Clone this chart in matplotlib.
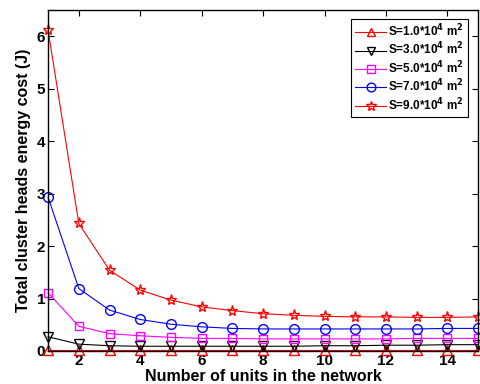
import matplotlib
matplotlib.use("Agg")
import matplotlib.pyplot as plt

plt.rcParams['font.family'] = ['Liberation Sans', 'DejaVu Sans']
plt.rcParams['font.weight'] = 'bold'
plt.rcParams['mathtext.default'] = 'bf'

units = list(range(1, 16))
s1 = [0.02, 0.02, 0.02, 0.02, 0.02, 0.02, 0.02, 0.02, 0.02, 0.02, 0.02, 0.02, 0.02, 0.02, 0.02]
s3 = [0.27, 0.13, 0.10, 0.09, 0.09, 0.09, 0.09, 0.09, 0.09, 0.10, 0.10, 0.11, 0.11, 0.12, 0.12]
s5 = [1.11, 0.47, 0.33, 0.29, 0.26, 0.24, 0.24, 0.23, 0.23, 0.23, 0.23, 0.23, 0.24, 0.24, 0.24]
s7 = [2.93, 1.19, 0.78, 0.60, 0.51, 0.46, 0.43, 0.42, 0.42, 0.42, 0.42, 0.42, 0.42, 0.43, 0.43]
s9 = [6.11, 2.43, 1.54, 1.16, 0.97, 0.84, 0.77, 0.71, 0.68, 0.66, 0.65, 0.65, 0.64, 0.64, 0.65]

labels = [r"S=1.0*10$^4$ m$^2$", r"S=3.0*10$^4$ m$^2$", r"S=5.0*10$^4$ m$^2$",
          r"S=7.0*10$^4$ m$^2$", r"S=9.0*10$^4$ m$^2$"]
series = [s1, s3, s5, s7, s9]
colors = ['#ff0000', '#000000', '#ff00ff', '#0000ff', '#ff0000']
markers = ['^', 'v', 's', 'o', '*']
msizes = [7, 7, 6, 7, 8]

fig = plt.figure(figsize=(4.81, 3.84), dpi=100)
ax = fig.add_axes([0.100, 0.086, 0.894, 0.888])

for ys, c, m, ms, lab in zip(series, colors, markers, msizes, labels):
    ax.plot(units, ys, color=c, marker=m, markersize=ms, mfc='none', mec=c,
            mew=1.0, lw=0.8, label=lab, clip_on=False)

ax.set_xlim(1, 15)
ax.set_ylim(0, 6.5)
ax.set_xticks([2, 4, 6, 8, 10, 12, 14])
ax.set_yticks([0, 1, 2, 3, 4, 5, 6])
ax.tick_params(direction='in', top=True, right=True, length=4, width=0.8,
               labelsize=11, pad=2)
for lbl in ax.get_xticklabels() + ax.get_yticklabels():
    lbl.set_fontweight('bold')
for sp in ax.spines.values():
    sp.set_linewidth(1.0)

ax.set_xlabel("Number of units in the network", fontsize=11.5, fontweight='bold', labelpad=1)
ax.set_ylabel("Total cluster heads energy cost (J)", fontsize=11.5, fontweight='bold', labelpad=4)

leg = ax.legend(loc='upper right', bbox_to_anchor=(0.985, 0.985), fontsize=8.5,
                fancybox=False, edgecolor='black', framealpha=1,
                handlelength=2.6, borderpad=0.35, labelspacing=0.15,
                handletextpad=0.2, borderaxespad=0.3, markerscale=0.9)
leg.get_frame().set_linewidth(0.8)
for t in leg.get_texts():
    t.set_fontweight('bold')

fig.savefig("out.png", dpi=100)
